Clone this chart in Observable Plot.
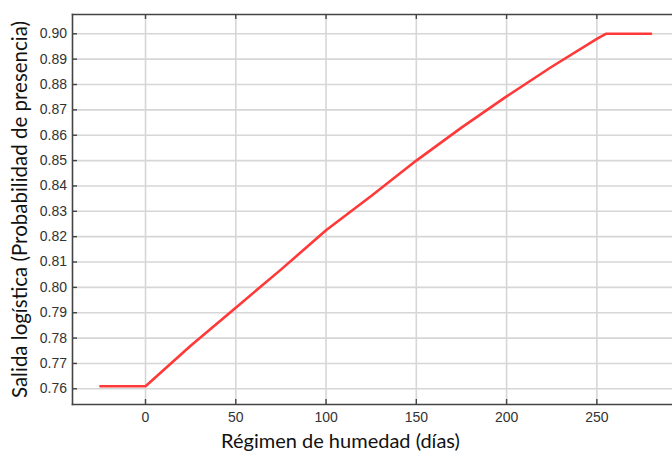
<!DOCTYPE html>
<html>
<head>
<meta charset="utf-8">
<script src="https://cdn.jsdelivr.net/npm/d3@7"></script>
<script src="https://cdn.jsdelivr.net/npm/@observablehq/plot@0.6"></script>
<style>
  html, body { margin: 0; padding: 0; background: #fff; }
  svg { display: block; }
</style>
</head>
<body>
<div id="chart"></div>
<script>
// Data
const dias = [-25, 0, 25, 50, 75, 100, 125, 150, 175, 200, 225, 250, 255, 280];
const probabilidad = [0.761, 0.761, 0.777, 0.792, 0.807, 0.8225, 0.836, 0.850, 0.863, 0.8753, 0.887, 0.898, 0.900, 0.900];
const xTicks = [0, 50, 100, 150, 200, 250];
const yTicks = [0.76, 0.77, 0.78, 0.79, 0.80, 0.81, 0.82, 0.83, 0.84, 0.85, 0.86, 0.87, 0.88, 0.89, 0.90];
const xTitle = "Régimen de humedad (días)";
const yTitle = "Salida logística (Probabilidad de presencia)";

const data = dias.map((d, i) => ({dias: d, p: probabilidad[i]}));

const W = 672, H = 452;
const mL = 72, mT = 14, mB = 48, mR = 0;
const plotW = W - mL - mR, plotH = H - mT - mB;
const axisColor = "#444";
const gridColor = "#d6d6d6";
const tickFont = "'Liberation Sans', Arial, sans-serif";
const titleFont = "Lato, 'Open Sans', sans-serif";

const chart = Plot.plot({
  width: W,
  height: H,
  marginLeft: mL,
  marginTop: mT,
  marginBottom: mB,
  marginRight: mR,
  style: {background: "#fff", overflow: "visible"},
  x: {domain: [-40.44, 291.9]},
  y: {domain: [0.75381, 0.90761]},
  marks: [
    // grid
    Plot.ruleX(xTicks, {stroke: gridColor, strokeWidth: 1.6}),
    Plot.ruleY(yTicks, {stroke: gridColor, strokeWidth: 1.6}),
    // frame lines: left, top, bottom
    Plot.frame({anchor: "left", stroke: axisColor, strokeWidth: 1.6}),
    Plot.frame({anchor: "top", stroke: axisColor, strokeWidth: 1.6}),
    Plot.frame({anchor: "bottom", stroke: axisColor, strokeWidth: 1.6}),
    // inward tick marks
    Plot.tickX(xTicks, {x: d => d, stroke: axisColor, strokeWidth: 1.4, insetTop: plotH - 5}),
    Plot.tickX(xTicks, {x: d => d, stroke: axisColor, strokeWidth: 1.4, insetBottom: plotH - 5}),
    Plot.tickY(yTicks, {y: d => d, stroke: axisColor, strokeWidth: 1.4, insetRight: plotW - 5}),
    // axes labels
    Plot.axisX(xTicks, {tickSize: 0, tickPadding: 8, fontSize: 14, fontFamily: tickFont, fill: "#333", label: null}),
    Plot.axisY(yTicks, {tickSize: 0, tickPadding: 5.5, fontSize: 14, fontFamily: tickFont, fill: "#333", label: null, tickFormat: d3.format(".2f")}),
    // data line
    Plot.line(data, {x: "dias", y: "p", stroke: "#ff3838", strokeWidth: 2.6}),
    // titles
    Plot.text([xTitle], {frameAnchor: "bottom-left", dx: 268, dy: 37, fontSize: 20, fontFamily: titleFont, fill: "#111", textAnchor: "middle", lineAnchor: "middle"}),
    Plot.text([yTitle], {frameAnchor: "left", dx: -52, rotate: -90, fontSize: 20.5, fontFamily: titleFont, fill: "#111", textAnchor: "middle", lineAnchor: "middle"})
  ]
});

document.getElementById("chart").appendChild(chart);
</script>
</body>
</html>
